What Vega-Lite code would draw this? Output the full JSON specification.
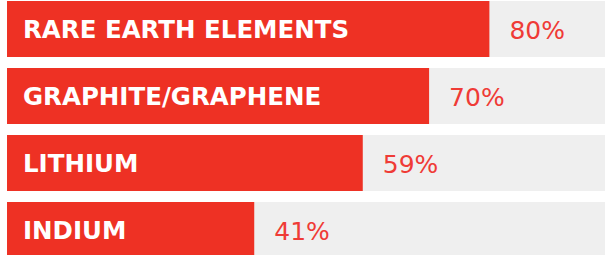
{
  "$schema": "https://vega.github.io/schema/vega-lite/v6.json",
  "width": 603,
  "height": {"step": 67},
  "autosize": {"type": "none"},
  "padding": {"left": 7, "top": 1, "right": 0, "bottom": 0},
  "background": "white",
  "config": {"view": {"stroke": null}},
  "data": {
    "values": [
      {"element": "RARE EARTH ELEMENTS", "pct": 80, "full": 100, "label": "80%"},
      {"element": "GRAPHITE/GRAPHENE", "pct": 70, "full": 100, "label": "70%"},
      {"element": "LITHIUM", "pct": 59, "full": 100, "label": "59%"},
      {"element": "INDIUM", "pct": 41, "full": 100, "label": "41%"}
    ]
  },
  "encoding": {
    "y": {
      "field": "element",
      "type": "nominal",
      "sort": null,
      "axis": null,
      "scale": {"paddingInner": 0.164, "paddingOuter": 0}
    }
  },
  "layer": [
    {
      "mark": {"type": "bar", "color": "#efefef"},
      "encoding": {
        "x": {"field": "full", "type": "quantitative", "axis": null, "scale": {"domain": [0, 100], "nice": false}}
      }
    },
    {
      "mark": {"type": "bar", "color": "#ee3124"},
      "encoding": {
        "x": {"field": "pct", "type": "quantitative"}
      }
    },
    {
      "mark": {"type": "text", "align": "left", "baseline": "middle", "dx": 16, "dy": 2, "font": "DejaVu Sans", "fontWeight": "bold", "fontSize": 24.5, "color": "white"},
      "encoding": {
        "x": {"datum": 0, "type": "quantitative"},
        "text": {"field": "element"}
      }
    },
    {
      "mark": {"type": "text", "align": "left", "baseline": "middle", "dx": 20, "dy": 2, "font": "DejaVu Sans", "fontSize": 25, "color": "#ef3b36"},
      "encoding": {
        "x": {"field": "pct", "type": "quantitative"},
        "text": {"field": "label"}
      }
    }
  ]
}
